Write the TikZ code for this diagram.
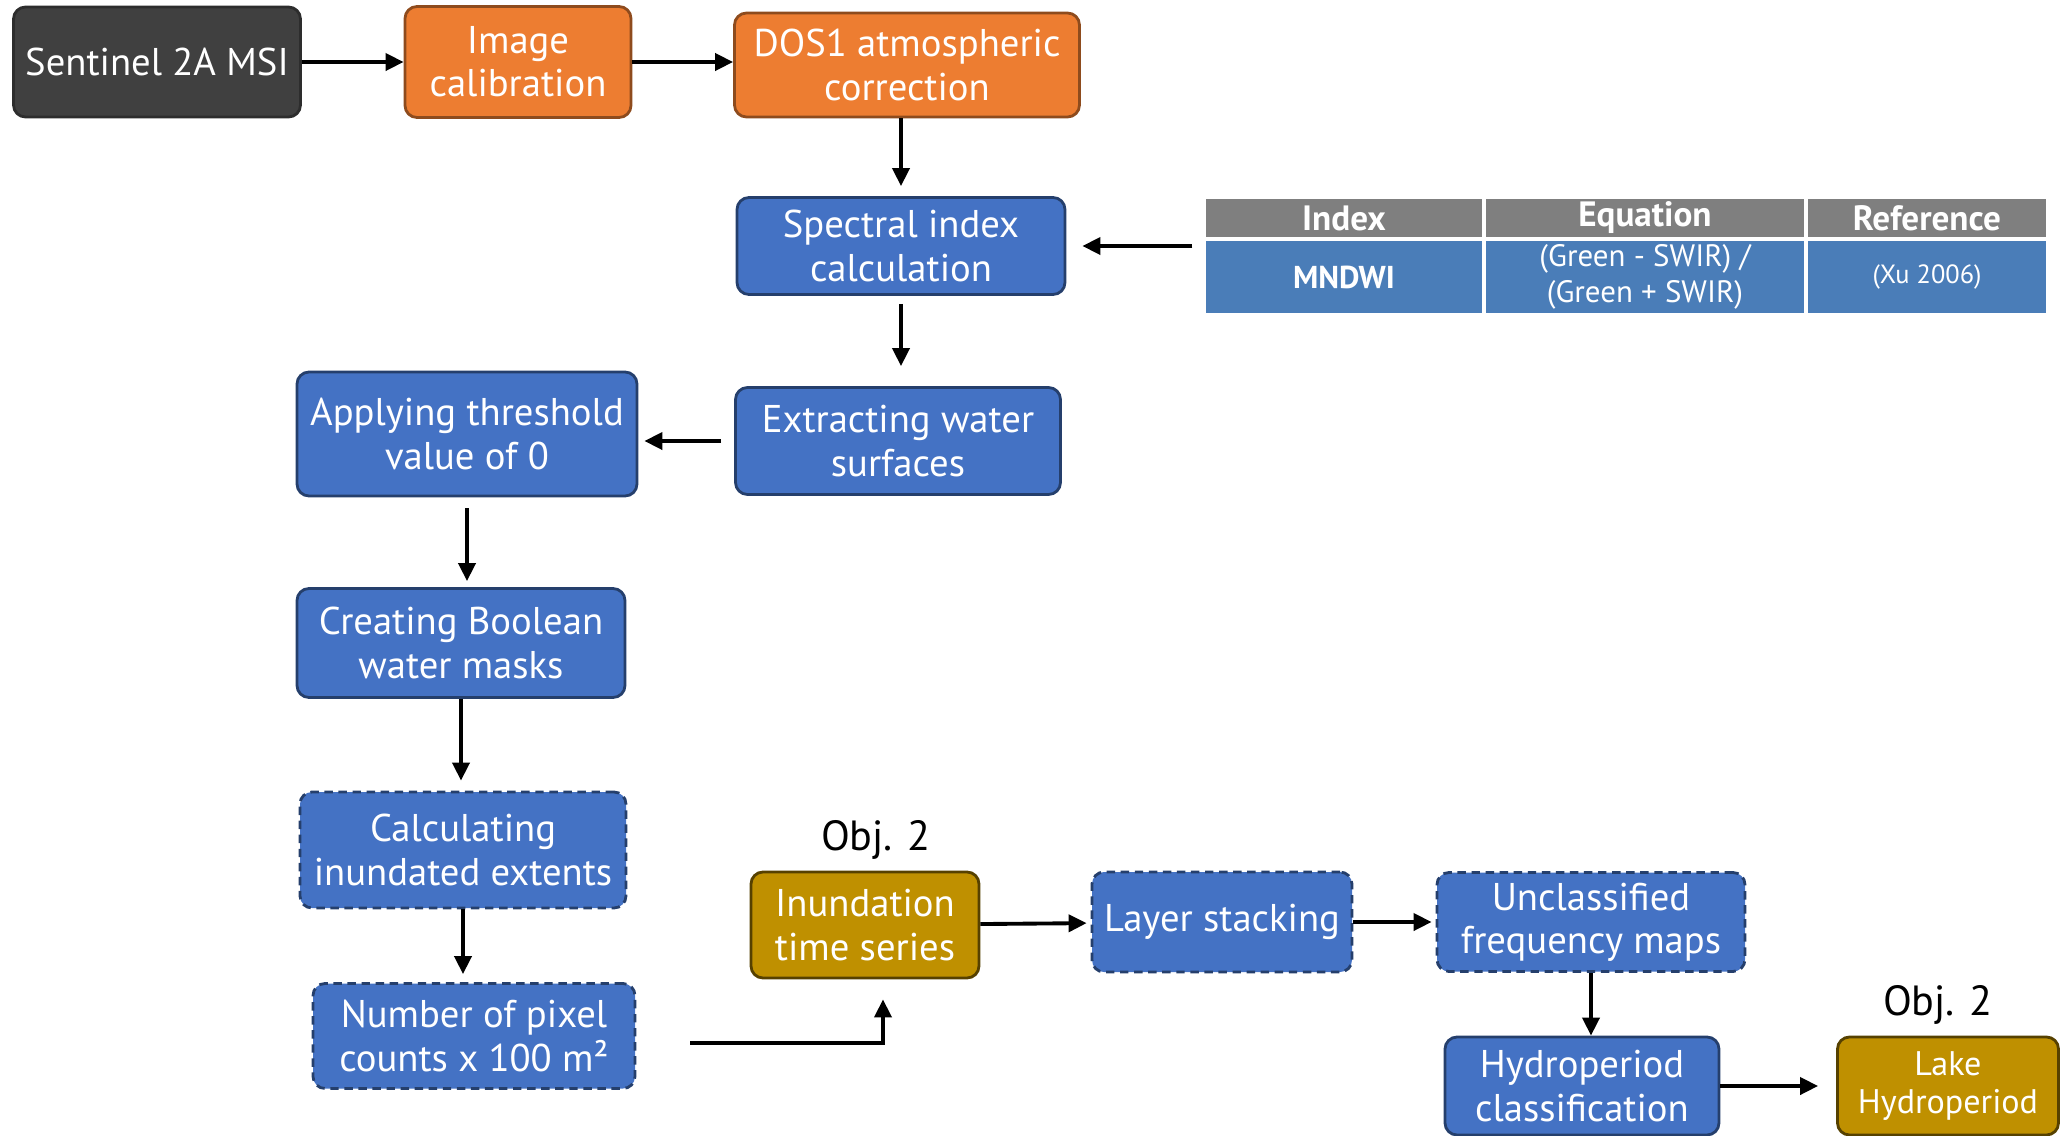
\documentclass[tikz,border=0pt]{standalone}
\usepackage{fontspec}
\setmainfont{PT Sans}
\usetikzlibrary{arrows.meta}
\definecolor{ppgrey}{HTML}{404040}
\definecolor{pporange}{HTML}{ED7D31}
\definecolor{ppblue}{HTML}{4472C4}
\definecolor{ppgold}{HTML}{BF9000}
\definecolor{tabgrey}{HTML}{7F7F7F}
\definecolor{tabblue}{HTML}{4A7DB8}
\tikzset{
  blk/.style={rounded corners=1.2mm, line width=0.8pt, text=white, align=center,
    font=\fontsize{11}{12.3}\selectfont, inner sep=0pt},
  greyblk/.style={blk, fill=ppgrey, draw=ppgrey!70!black},
  orangeblk/.style={blk, fill=pporange, draw=pporange!60!black},
  blueblk/.style={blk, fill=ppblue, draw=ppblue!55!black},
  dashblk/.style={blueblk, dash pattern=on 2.4pt off 1.6pt},
  goldblk/.style={blk, fill=ppgold, draw=ppgold!45!black},
  headcell/.style={draw=white, line width=1pt, fill=tabgrey, text=white, inner sep=0pt,
    minimum height=4.2mm, font=\fontsize{10}{11}\selectfont\bfseries},
  rowcell/.style={draw=white, line width=1pt, fill=tabblue, text=white, inner sep=0pt,
    align=center, minimum height=7.6mm, font=\fontsize{8.8}{10.3}\selectfont},
  objlabel/.style={font=\fontsize{12}{14}\selectfont},
  flow/.style={-{Triangle[length=1.8mm,width=1.7mm]}, line width=1.1pt},
}
\begin{document}
\begin{tikzpicture}[x=0.1mm, y=-0.1mm]
  \useasboundingbox (0,0) rectangle (2061,1136);
  \draw
    (157,62) node[greyblk, minimum width=28.7mm, minimum height=11mm] (sentinel){Sentinel 2A MSI}
    (518,62) node[orangeblk, minimum width=22.6mm, minimum height=11.1mm] (calib){Image\\calibration}
    (907,65) node[orangeblk, minimum width=34.5mm, minimum height=10.4mm] (dos){DOS1 atmospheric\\correction}
    (901,246) node[blueblk, minimum width=32.8mm, minimum height=9.7mm] (spectral){Spectral index\\calculation}
    (898,441) node[blueblk, minimum width=32.5mm, minimum height=10.7mm] (extract){Extracting water\\surfaces}
    (467,434) node[blueblk, minimum width=34mm, minimum height=12.4mm] (threshold){Applying threshold\\value of 0}
    (461,643) node[blueblk, minimum width=32.8mm, minimum height=10.9mm] (boolean){Creating Boolean\\water masks}
    (463,850) node[dashblk, minimum width=32.6mm, minimum height=11.6mm] (calcinund){Calculating\\inundated extents}
    (474,1036) node[dashblk, minimum width=32.2mm, minimum height=10.5mm] (pixel){Number of pixel\\counts x 100 m²}
    (865,925) node[goldblk, minimum width=22.8mm, minimum height=10.6mm] (inund){Inundation\\time series}
    (1222,922) node[dashblk, minimum width=26mm, minimum height=10mm] (layer){Layer stacking}
    (1591,922) node[dashblk, minimum width=30.8mm, minimum height=9.9mm] (unclass){Unclassified\\frequency maps}
    (1582,1086) node[blueblk, minimum width=27.4mm, minimum height=9.8mm] (hydro){Hydroperiod\\classification}
    (1948,1086) node[goldblk, minimum width=22.1mm, minimum height=9.8mm,
      font=\fontsize{9.7}{11}\selectfont] (lake){Lake\\Hydroperiod}
    (876,840) node[objlabel] (objA){Obj. 2}
    (1938,1005) node[objlabel] (objB){Obj. 2};
  \draw
    (1344,218) node[headcell, minimum width=28mm] (hIndex){Index}
    (1645,218) node[headcell, minimum width=32.2mm] (hEq){Equation}
    (1927,218) node[headcell, minimum width=24.2mm] (hRef){Reference}
    (1344,277) node[rowcell, minimum width=28mm, font=\fontsize{9}{10}\selectfont\bfseries] (cIndex){MNDWI}
    (1645,277) node[rowcell, minimum width=32.2mm] (cEq){(Green - SWIR) /\\(Green + SWIR)}
    (1927,277) node[rowcell, minimum width=24.2mm, font=\fontsize{7.5}{9}\selectfont] (cRef){(Xu 2006)};
  \coordinate (pixout) at (690,1043);
  \begin{scope}[flow]
    \draw (sentinel) -- (calib);
    \draw (calib.east) -- (calib.east -| dos.west);
    \draw[shorten >=1mm] (spectral.north |- dos.south) -- (spectral.north);
    \draw[shorten <=1mm, shorten >=1.6mm] (spectral.east -| hIndex.west) -- (spectral.east);
    \draw[shorten <=0.8mm, shorten >=2mm] (spectral.south) -- (spectral.south |- extract.north);
    \draw[shorten <=1.3mm, shorten >=0.6mm] (extract.west) -- (extract.west -| threshold.east);
    \draw[shorten <=1.1mm, shorten >=0.6mm] (threshold.south) -- (threshold.south |- boolean.north);
    \draw[shorten >=1mm] (boolean.south) -- (boolean.south |- calcinund.north);
    \draw[shorten >=0.8mm] (calcinund.south) -- (calcinund.south |- pixel.north);
    \draw[shorten >=2mm] (pixout) -| ([xshift=1.8mm]inund.south);
    \draw[shorten >=0.4mm] (inund) -- (layer);
    \draw[shorten >=0.4mm] (layer) -- (unclass);
    \draw (unclass.south) -- (unclass.south |- hydro.north);
    \draw[shorten >=1.8mm] (hydro) -- (lake);
  \end{scope}
\end{tikzpicture}
\end{document}
